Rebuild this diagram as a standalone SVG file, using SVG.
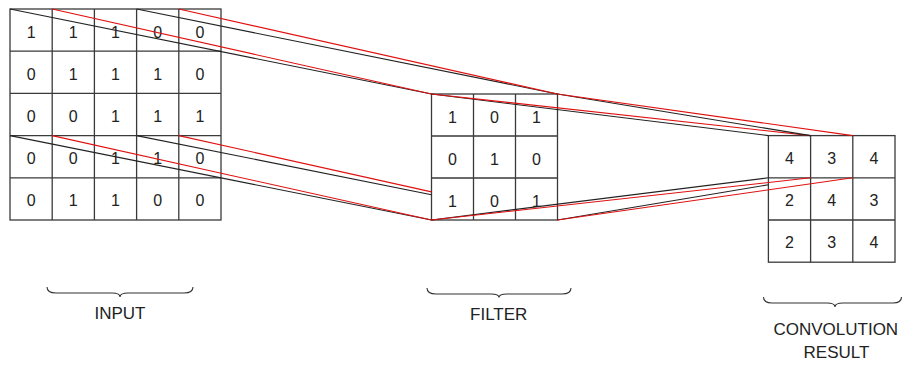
<svg xmlns="http://www.w3.org/2000/svg" width="903" height="365" viewBox="0 0 903 365">
  <style>
    .cell { fill: #ffffff; stroke: #3a3a3a; stroke-width: 1.3; }
    .num { font-family: "Liberation Sans", Arial, sans-serif; font-size: 16px; fill: #222; text-anchor: middle; }
    .label { font-family: "Liberation Sans", Arial, sans-serif; font-size: 17px; fill: #222; text-anchor: middle; }
    .brace { fill: none; stroke: #333; stroke-width: 1.1; }
    .blk { stroke: #222; stroke-width: 1.1; fill: none; }
    .red { stroke: #e01010; stroke-width: 1.1; fill: none; }
  </style>

  <rect width="903" height="365" fill="#ffffff"/>

  <!-- 5x5 input matrix -->
  <g id="input">
    <g fill="none" stroke="#3a3a3a" stroke-width="1.3">
      <rect x="10" y="9" width="211" height="211" fill="#fff"/>
      <path d="M52.2,9V220M94.4,9V220M136.6,9V220M178.8,9V220M10,51.2H221M10,93.4H221M10,135.6H221M10,177.8H221"/>
    </g>
    <g class="num">
      <text x="31.1" y="37.6">1</text><text x="73.3" y="37.6">1</text><text x="115.5" y="37.6">1</text><text x="157.7" y="37.6">0</text><text x="199.9" y="37.6">0</text>
      <text x="31.1" y="79.8">0</text><text x="73.3" y="79.8">1</text><text x="115.5" y="79.8">1</text><text x="157.7" y="79.8">1</text><text x="199.9" y="79.8">0</text>
      <text x="31.1" y="122">0</text><text x="73.3" y="122">0</text><text x="115.5" y="122">1</text><text x="157.7" y="122">1</text><text x="199.9" y="122">1</text>
      <text x="31.1" y="164.2">0</text><text x="73.3" y="164.2">0</text><text x="115.5" y="164.2">1</text><text x="157.7" y="164.2">1</text><text x="199.9" y="164.2">0</text>
      <text x="31.1" y="206.4">0</text><text x="73.3" y="206.4">1</text><text x="115.5" y="206.4">1</text><text x="157.7" y="206.4">0</text><text x="199.9" y="206.4">0</text>
    </g>
  </g>

  <!-- 3x3 filter -->
  <g id="filter">
    <g fill="none" stroke="#3a3a3a" stroke-width="1.3">
      <rect x="431.5" y="94" width="126" height="126" fill="#fff"/>
      <path d="M473.5,94V220M515.5,94V220M431.5,136H557.5M431.5,178H557.5"/>
    </g>
    <g class="num">
      <text x="452.5" y="122.5">1</text><text x="494.5" y="122.5">0</text><text x="536.5" y="122.5">1</text>
      <text x="452.5" y="164.5">0</text><text x="494.5" y="164.5">1</text><text x="536.5" y="164.5">0</text>
      <text x="452.5" y="206.5">1</text><text x="494.5" y="206.5">0</text><text x="536.5" y="206.5">1</text>
    </g>
  </g>

  <!-- 3x3 convolution result -->
  <g id="result">
    <g fill="none" stroke="#3a3a3a" stroke-width="1.3">
      <rect x="768.4" y="135.6" width="126.6" height="126.6" fill="#fff"/>
      <path d="M810.6,135.6V262.2M852.8,135.6V262.2M768.4,177.8H895M768.4,220H895"/>
    </g>
    <g class="num">
      <text x="789.5" y="163.5">4</text><text x="831.7" y="163.5">3</text><text x="873.9" y="163.5">4</text>
      <text x="789.5" y="205.7">2</text><text x="831.7" y="205.7">4</text><text x="873.9" y="205.7">3</text>
      <text x="789.5" y="247.9">2</text><text x="831.7" y="247.9">3</text><text x="873.9" y="247.9">4</text>
    </g>
  </g>

  <!-- projection lines: window corners -> filter corners -> result cell -->
  <g id="connectors">
    <!-- top edge of the windows -->
    <line class="blk" x1="10" y1="9" x2="431.5" y2="94"/>
    <line class="red" x1="52.2" y1="9" x2="431.5" y2="94"/>
    <line class="blk" x1="136.6" y1="9" x2="557.5" y2="94"/>
    <line class="red" x1="178.8" y1="9" x2="557.5" y2="94"/>
    <line class="blk" x1="431.5" y1="94" x2="768.4" y2="135.6"/>
    <line class="red" x1="431.5" y1="94" x2="810.6" y2="135.6"/>
    <line class="blk" x1="557.5" y1="94" x2="810.6" y2="135.6"/>
    <line class="red" x1="557.5" y1="94" x2="852.8" y2="135.6"/>
    <!-- bottom edge of the windows -->
    <line class="blk" x1="10" y1="135.6" x2="431.5" y2="220"/>
    <line class="red" x1="52.2" y1="135.6" x2="431.5" y2="220"/>
    <line class="blk" x1="136.6" y1="135.6" x2="431.5" y2="194.7"/>
    <line class="red" x1="178.8" y1="135.6" x2="431.5" y2="191.9"/>
    <line class="blk" x1="431.5" y1="220" x2="768.4" y2="177.8"/>
    <line class="red" x1="431.5" y1="220" x2="810.6" y2="177.8"/>
    <line class="blk" x1="557.5" y1="220" x2="768.4" y2="184.8"/>
    <line class="red" x1="557.5" y1="220" x2="852.8" y2="177.8"/>
  </g>

  <!-- captions with braces -->
  <g id="input-label">
    <path class="brace" d="M47,287 Q47,293 56,293 L112,293 Q120,293 120,297 Q120,293 128,293 L184,293 Q193,293 193,287"/>
    <text class="label" x="120" y="318.5">INPUT</text>
  </g>
  <g id="filter-label">
    <path class="brace" d="M427,288 Q427,294 436,294 L491,294 Q499,294 499,297.5 Q499,294 507,294 L562,294 Q571,294 571,288"/>
    <text class="label" x="498.7" y="320">FILTER</text>
  </g>
  <g id="result-label">
    <path class="brace" d="M763.5,297 Q763.5,303 772,303 L827,303 Q835,303 835,307 Q835,303 843,303 L893,303 Q901.5,303 901.5,297"/>
    <text class="label" x="835.8" y="335">CONVOLUTION</text>
    <text class="label" x="836.5" y="358.3">RESULT</text>
  </g>
</svg>
